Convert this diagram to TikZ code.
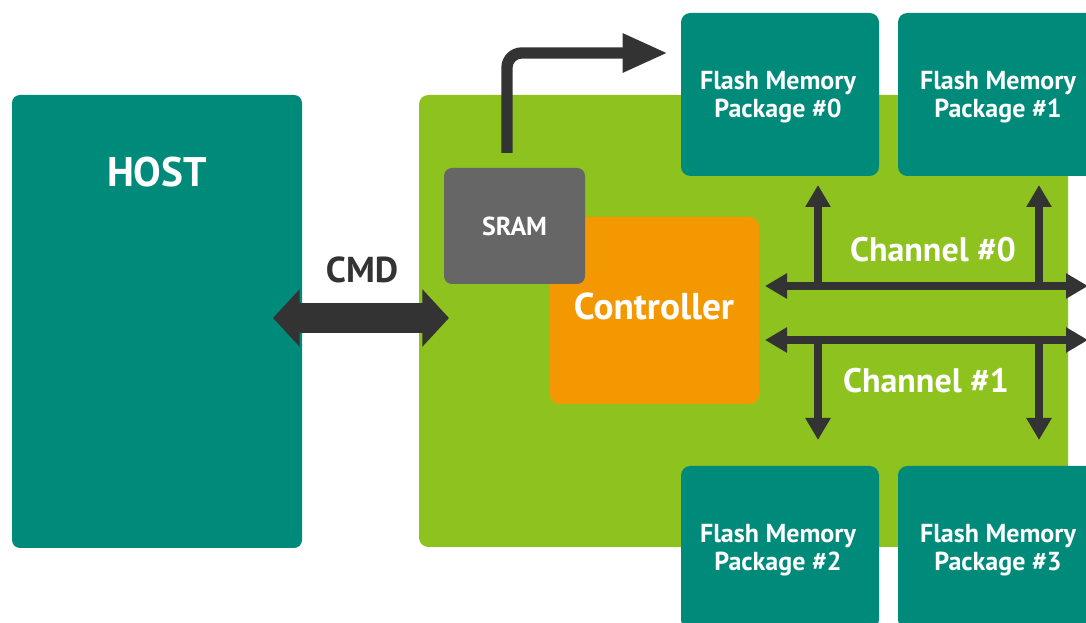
\documentclass[tikz,border=0pt]{standalone}
\usepackage{fontspec}
\setmainfont{PT Sans}
\usetikzlibrary{arrows.meta}
\definecolor{hostteal}{RGB}{0,138,122}
\definecolor{boardgreen}{RGB}{141,194,31}
\definecolor{ctrlorange}{RGB}{243,152,0}
\definecolor{sramgray}{RGB}{102,102,102}
\definecolor{arrowdark}{RGB}{51,51,51}
\begin{document}
\begin{tikzpicture}[x=0.75pt,y=-0.75pt,
  block/.style 2 args={draw=none, inner sep=0pt, rounded corners=7pt,
    minimum width=#1*0.75pt, minimum height=#2*0.75pt, text=white,
    font=\bfseries, align=center},
  flashbox/.style={block={198}{163}, fill=hostteal},
  flashtext/.style={inner sep=0pt, text=white, align=center,
    font=\bfseries\fontsize{19.5}{21}\selectfont},
  label/.style={inner sep=0pt, text=white, font=\bfseries},
  cmdarrow/.style={draw=arrowdark, line width=22pt,
    {Triangle[length=20pt, width=42pt]}-{Triangle[length=20pt, width=42pt]}},
  sramarrow/.style={draw=arrowdark, line width=8.5pt, rounded corners=11pt,
    -{Triangle[length=34pt, width=27pt]}},
  busarrow/.style={draw=arrowdark, line width=6pt,
    {Triangle[length=16.5pt, width=18pt]}-{Triangle[length=16.5pt, width=18pt]}},
  taparrow/.style={draw=arrowdark, line width=6.5pt,
    -{Triangle[length=16.5pt, width=18pt]}},
]
\useasboundingbox (0,0) rectangle (1086,623);
\clip (0,0) rectangle (1086,623);

% main blocks
\node[block={649}{452}, fill=boardgreen] (board) at (743.5,321) {};
\node[block={290}{453}, fill=hostteal, rounded corners=6pt] (host) at (157,321.5) {};
\node[label, font=\bfseries\fontsize{31}{36}\selectfont] (hostlbl) at (157,172) {HOST};

% flash packages
\node[flashbox] (flash0) at (780,94.5) {};
\node[flashbox] (flash1) at (997,94.5) {};
\node[flashbox] (flash2) at (780,547.5) {};
\node[flashbox] (flash3) at (997,547.5) {};
\node[flashtext] (flash0lbl) at (778,97) {Flash Memory\\Package \#0};
\node[flashtext] (flash1lbl) at (998,97) {Flash Memory\\Package \#1};
\node[flashtext] (flash2lbl) at (778,550) {Flash Memory\\Package \#2};
\node[flashtext] (flash3lbl) at (998,550) {Flash Memory\\Package \#3};

% controller and SRAM
\node[block={209}{187}, fill=ctrlorange] (ctrl) at (654.5,310.5) {};
\node[label, font=\bfseries\fontsize{28}{32}\selectfont] (ctrllbl) at (654,306) {Controller};
\node[block={141}{116}, fill=sramgray, rounded corners=6pt,
      font=\bfseries\fontsize{19.5}{22}\selectfont] (sram) at (514.5,226) {SRAM};

% arrow end points
\coordinate (cmdL) at (273,318);
\coordinate (cmdR) at (449,318);
\coordinate (sramOut) at (507,153);
\coordinate (sramBend) at (507,53);
\coordinate (sramTip) at (668,53);
\coordinate (bus0L) at (765,286);
\coordinate (bus0R) at (1088,286);
\coordinate (bus1L) at (765,340);
\coordinate (bus1R) at (1088,340);
\coordinate (tap0a) at (818,286);
\coordinate (tap0b) at (1039,286);
\coordinate (tap1a) at (818,340);
\coordinate (tap1b) at (1039,340);
\coordinate (up0a) at (818,185);
\coordinate (up0b) at (1039,185);
\coordinate (dn1a) at (818,440);
\coordinate (dn1b) at (1039,440);

% command path between host and controller board
\draw[cmdarrow] (cmdL) -- (cmdR);
\node[inner sep=0pt, text=arrowdark, font=\bfseries\fontsize{27}{30}\selectfont] (cmdlbl) at (362,270) {CMD};

% SRAM output
\draw[sramarrow] (sramOut) -- (sramBend) -- (sramTip);

% channel buses and their taps to the flash packages
\draw[taparrow] (tap0a) -- (up0a);
\draw[taparrow] (tap0b) -- (up0b);
\draw[taparrow] (tap1a) -- (dn1a);
\draw[taparrow] (tap1b) -- (dn1b);
\draw[busarrow] (bus0L) -- (bus0R);
\draw[busarrow] (bus1L) -- (bus1R);
\node[label, font=\bfseries\fontsize{25.5}{30}\selectfont] (ch0) at (933,250) {Channel \#0};
\node[label, font=\bfseries\fontsize{25.5}{30}\selectfont] (ch1) at (926,381) {Channel \#1};
\end{tikzpicture}
\end{document}
